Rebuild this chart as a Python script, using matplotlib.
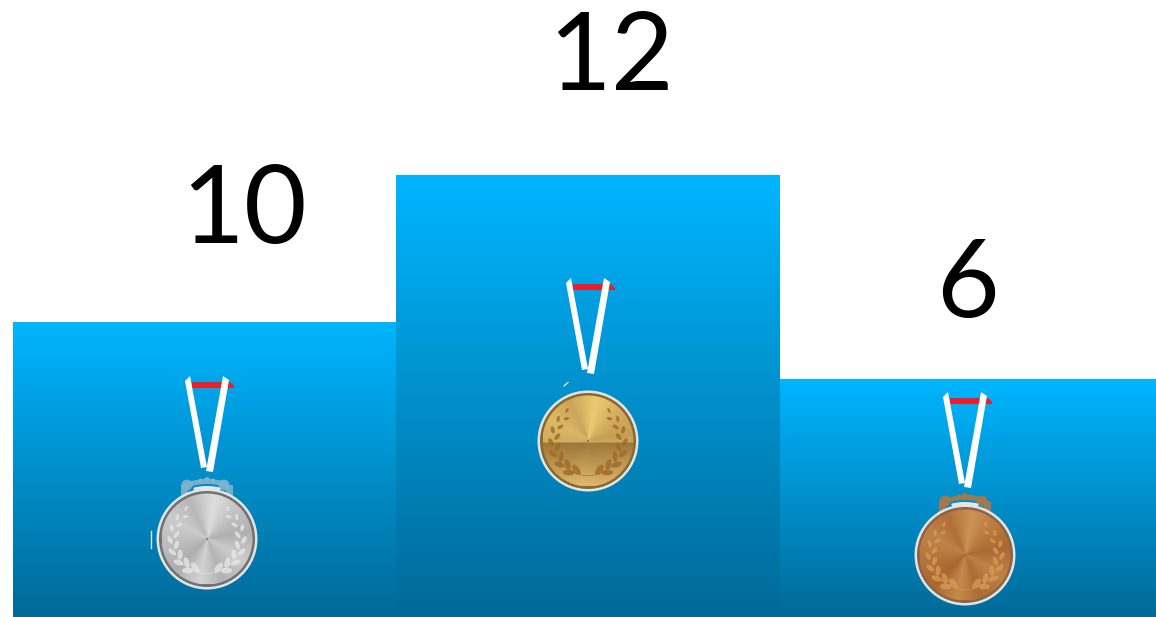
"""
Medal podium: three gradient steps with a medal hanging on each one.
"""

import matplotlib
matplotlib.use('Agg')
import matplotlib.pyplot as plt
import numpy as np
from matplotlib.colors import to_rgb
from matplotlib.patches import Circle, Ellipse, Polygon, Wedge

# Medal counts
medals = ['silver', 'gold', 'bronze']
counts = [10, 12, 6]

# The steps are a podium, not a linear bar chart: this scale sets how tall
# each count stands (count -> height in pixels)
scale_counts = [0, 6, 10, 12, 20]
scale_heights = [0, 238, 295, 442, 617]

WIDTH = 1156
HEIGHT = 617

step_left = [13, 396, 780]
step_width = [383, 384, 376]
label_x = [244, 611, 968]
label_y = [213, 60, 287]
medal_x = [207, 588, 965]
medal_y = [539, 441, 555]

STYLES = {
    'silver': {'light': '#DEDEDE', 'dark': '#A8A8A8', 'rim': '#6F7173',
               'leaf': '#E6E6E6', 'clasp': '#7FB4CE'},
    'gold': {'light': '#EBCB72', 'dark': '#BF9450', 'rim': '#8A6830',
             'leaf': '#9E6A24', 'clasp': None},
    'bronze': {'light': '#CC9356', 'dark': '#A4622C', 'rim': '#8B6546',
               'leaf': '#D89A55', 'clasp': '#A5794A'},
}

# Angle (degrees) and brightness of the brushed metal sectors
SHEEN_ANGLES = [-180, -135, -100, -70, -30, 10, 50, 80, 115, 150, 180]
SHEEN_LEVELS = [0.45, 0.10, 0.80, 0.20, 0.65, 0.15, 0.55, 1.00, 0.30, 0.65, 0.45]


def count_to_height(y):
    return np.interp(y, scale_counts, scale_heights)


def height_to_count(y):
    return np.interp(y, scale_heights, scale_counts)


def draw_step(ax, overlay, left, width, count):
    """Draw one podium step filled with a vertical blue gradient"""
    bar = ax.bar(left, count, width=width, align='edge', color='none',
                 linewidth=0)[0]
    top = HEIGHT - ax.transData.transform((left, count))[1]
    shades = np.linspace(0, 1, 256)[:, None, None]
    start = np.array(to_rgb('#00B5FF'))
    end = np.array(to_rgb('#006A98'))
    image = overlay.imshow(start + (end - start) * shades, aspect='auto',
                           extent=(left, left + width, HEIGHT, top), zorder=1)
    image.set_clip_path(bar)


def draw_ribbon(ax, cx, cy):
    """Red band and the two white straps above a medal"""
    red = [(-15, -157), (23, -157), (27, -153), (27, -151), (-15, -151)]
    left = [(-22, -158), (-17, -163), (0, -72), (-6, -71)]
    right = [(16, -163), (22, -159), (6, -67), (-1, -68)]
    ax.add_patch(Polygon([(cx + x, cy + y) for x, y in red],
                         color='#E8202C', lw=0, zorder=3))
    for strap in (left, right):
        ax.add_patch(Polygon([(cx + x, cy + y) for x, y in strap],
                             color='white', lw=0, zorder=4))


def draw_clasp(ax, cx, cy, color):
    """Ornamental loop on top of a medal"""
    alpha = 0.9
    ax.add_patch(Wedge((cx, cy), 60, 250, 290, width=5, color=color,
                       alpha=alpha, lw=0, zorder=3))
    for x, y, r in [(-20, -54, 5.5), (17, -54, 5.5), (0, -59, 3), (-6, -58, 2.5),
                    (6, -58, 2.5)]:
        ax.add_patch(Circle((cx + x, cy + y), r, color=color, alpha=alpha,
                            lw=0, zorder=3))
    for x in (-26, 19):
        foot = [(cx + x, cy - 42), (cx + x + 7, cy - 42),
                (cx + x + 7, cy - 54), (cx + x, cy - 54)]
        ax.add_patch(Polygon(foot, color=color, alpha=alpha, lw=0, zorder=3))
    ax.add_patch(Wedge((cx, cy), 53, 255, 285, width=3, color='#E8E8E8',
                       lw=0, zorder=4))


def draw_wreath(ax, cx, cy, color, clip):
    """Laurel branches on both sides of the face"""
    angles = np.arange(-68, 62, 9.5)
    for side in (-1, 1):
        for i, angle in enumerate(angles):
            rad = np.radians(angle)
            outer = i % 2 == 1
            r = 34 + (3 if outer else -3)
            x = cx + side * r * np.cos(rad)
            y = cy - r * np.sin(rad)
            # Leaf follows the branch and splays away from it
            tangent = np.degrees(np.arctan2(-np.cos(rad), -np.sin(rad)))
            tilt = tangent + (30 if outer else -30)
            if side < 0:
                tilt = 180 - tilt
            length = np.interp(angle, [-68, 60], [12, 5])
            leaf = Ellipse((x, y), length, length * 0.5, angle=tilt,
                           color=color, alpha=0.8, lw=0, zorder=7)
            ax.add_patch(leaf)
            leaf.set_clip_path(clip)
    ax.add_patch(Wedge((cx, cy), 35, 30, 150, width=0.8, color=color,
                       alpha=0.7, lw=0, zorder=7))


def draw_medal(ax, name, cx, cy):
    """Draw a full medal centred on (cx, cy) in pixel coordinates"""
    style = STYLES[name]
    draw_ribbon(ax, cx, cy)
    if style['clasp']:
        draw_clasp(ax, cx, cy, style['clasp'])

    ax.add_patch(Circle((cx, cy), 50.5, color='#E4E4E4', lw=0, zorder=5))
    ax.add_patch(Circle((cx, cy), 48, color=style['rim'], lw=0, zorder=5))

    # Brushed metal face built from the sheen sectors
    radius = 45.5
    grid = np.linspace(-radius, radius, 220)
    x, y = np.meshgrid(grid, grid)
    level = np.interp(np.degrees(np.arctan2(-y, x)), SHEEN_ANGLES, SHEEN_LEVELS)
    light = np.array(to_rgb(style['light']))
    dark = np.array(to_rgb(style['dark']))
    face = dark + (light - dark) * level[:, :, None]
    if name == 'gold':
        # The lower half sits in shadow, darkest just under the dividing line
        lower = (y > 2)[:, :, None]
        depth = np.clip(y / radius, 0, 1)[:, :, None]
        shadow = np.array(to_rgb('#8E6A2E'))
        tint = (shadow + (np.array(to_rgb('#C9A25E')) - shadow) * depth * 1.4) * 0.85 + face * 0.15
        face = np.where(lower, np.clip(tint, 0, 1), face)
    image = ax.imshow(face, aspect='auto', zorder=6,
                      extent=(cx - radius, cx + radius, cy + radius, cy - radius))
    clip = Circle((cx, cy), radius, transform=ax.transData)
    image.set_clip_path(clip)

    draw_wreath(ax, cx, cy, style['leaf'], clip)
    ax.add_patch(Circle((cx, cy), 1, color=style['rim'], lw=0, zorder=8))


def main():
    fig = plt.figure(figsize=(WIDTH / 100, HEIGHT / 100), dpi=100, facecolor='white')

    ax = fig.add_axes([0, 0, 1, 1])
    ax.set_xlim(0, WIDTH)
    ax.set_yscale('function', functions=(count_to_height, height_to_count))
    ax.set_ylim(0, 20)
    ax.axis('off')

    # Second layer in pixel coordinates for the artwork, y pointing down
    overlay = fig.add_axes([0, 0, 1, 1], zorder=2)
    overlay.patch.set_visible(False)
    overlay.axis('off')

    for left, width, count in zip(step_left, step_width, counts):
        draw_step(ax, overlay, left, width, count)

    for name, cx, cy in zip(medals, medal_x, medal_y):
        draw_medal(overlay, name, cx, cy)

    # Small stray highlights next to the silver and gold medals
    overlay.plot([150.5, 150.5], [531, 548], color='#CFE6F0', lw=1, zorder=3)
    overlay.plot([564, 568], [386, 382.5], color='#E6E28A', lw=1, zorder=3)

    for count, x, y in zip(counts, label_x, label_y):
        overlay.text(x, y, str(count), ha='center', va='center', color='black',
                     fontsize=78, family='Lato', zorder=9)

    overlay.set_xlim(0, WIDTH)
    overlay.set_ylim(HEIGHT, 0)

    fig.savefig('out.png', dpi=100)
    plt.close(fig)


if __name__ == "__main__":
    main()
